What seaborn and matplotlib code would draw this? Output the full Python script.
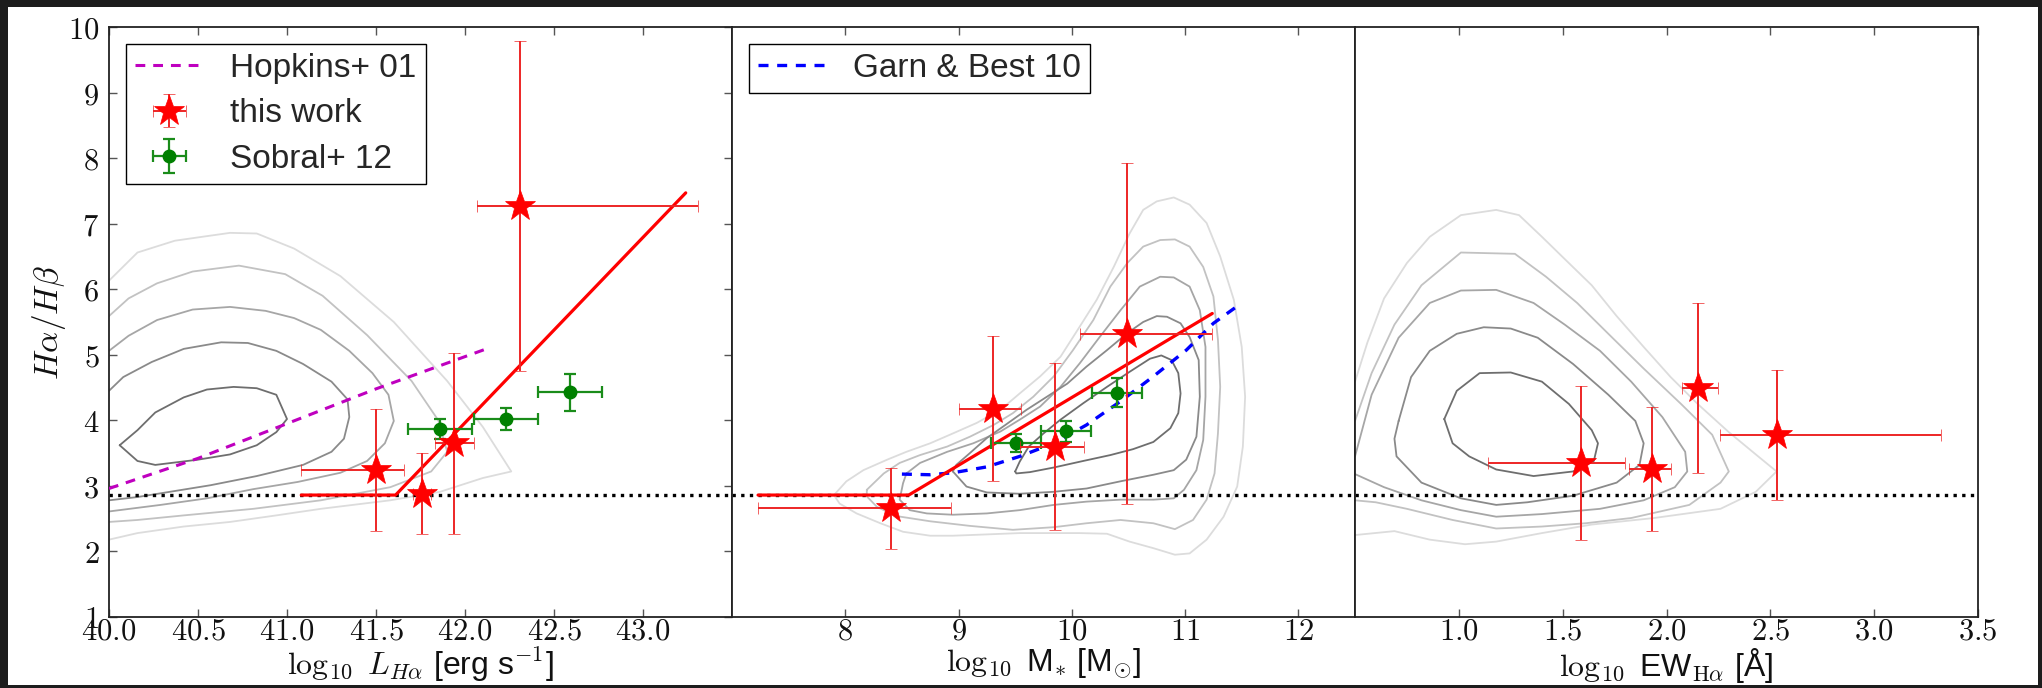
import matplotlib
matplotlib.use("Agg")
import matplotlib.pyplot as plt
import seaborn as sns
from matplotlib.patches import Rectangle

# ---------------- data ----------------
BALMER = 2.86

# panel 1 : log L(Halpha)
lha_star_x = [41.50, 41.76, 41.94, 42.31]
lha_star_y = [3.24, 2.88, 3.65, 7.27]
lha_star_xlo = [0.42, 0.05, 0.11, 0.24]
lha_star_xhi = [0.16, 0.05, 0.11, 1.00]
lha_star_yerr = [0.93, 0.62, 1.38, 2.51]

sobral_lha_x = [41.86, 42.23, 42.59]
sobral_lha_y = [3.87, 4.02, 4.43]
sobral_lha_xerr = [0.18, 0.18, 0.18]
sobral_lha_yerr = [0.15, 0.17, 0.28]

hopkins_x = [40.0, 40.5, 41.0, 41.5, 42.12]
hopkins_y = [2.96, 3.42, 3.95, 4.48, 5.09]

lha_fit_x = [41.08, 41.61, 43.24]
lha_fit_y = [2.86, 2.86, 7.47]

lha_c1_x = [40.0, 40.16, 40.37, 40.68, 40.83, 41.04, 41.30, 41.60, 41.90, 42.10, 42.26, 42.10, 41.86, 41.58, 41.19, 40.94, 40.68, 40.42, 40.16, 40.0]
lha_c1_y = [6.13, 6.56, 6.74, 6.86, 6.85, 6.62, 6.20, 5.50, 4.60, 3.90, 3.22, 3.12, 2.91, 2.78, 2.65, 2.55, 2.45, 2.38, 2.28, 2.18]
lha_c2_x = [40.0, 40.11, 40.27, 40.47, 40.73, 40.99, 41.20, 41.45, 41.70, 41.85, 41.90, 41.81, 41.58, 41.19, 40.81, 40.42, 40.16, 40.0]
lha_c2_y = [5.59, 5.86, 6.09, 6.27, 6.36, 6.23, 5.90, 5.30, 4.60, 4.00, 3.52, 3.22, 2.98, 2.78, 2.65, 2.55, 2.48, 2.45]
lha_c3_x = [40.0, 40.11, 40.27, 40.47, 40.68, 40.88, 41.04, 41.19, 41.35, 41.48, 41.57, 41.60, 41.55, 41.45, 41.30, 41.06, 40.81, 40.55, 40.29, 40.0]
lha_c3_y = [5.06, 5.29, 5.53, 5.69, 5.73, 5.67, 5.56, 5.38, 5.06, 4.72, 4.39, 3.99, 3.65, 3.38, 3.20, 3.06, 2.95, 2.81, 2.71, 2.61]
lha_c4_x = [40.0, 40.08, 40.24, 40.42, 40.63, 40.78, 40.94, 41.09, 41.25, 41.34, 41.35, 41.32, 41.25, 41.09, 40.83, 40.57, 40.32, 40.16, 40.0]
lha_c4_y = [4.45, 4.66, 4.89, 5.09, 5.19, 5.18, 5.06, 4.86, 4.59, 4.32, 4.05, 3.72, 3.52, 3.32, 3.15, 3.01, 2.90, 2.83, 2.78]
lha_c5_x = [40.06, 40.16, 40.26, 40.42, 40.55, 40.70, 40.83, 40.94, 41.00, 40.94, 40.83, 40.68, 40.50, 40.26, 40.16, 40.06]
lha_c5_y = [3.62, 3.85, 4.12, 4.35, 4.47, 4.51, 4.49, 4.39, 4.02, 3.82, 3.62, 3.48, 3.40, 3.32, 3.38, 3.62]

# panel 2 : log stellar mass
mass_star_x = [8.40, 9.30, 9.85, 10.49]
mass_star_y = [2.66, 4.18, 3.60, 5.32]
mass_star_xlo = [1.17, 0.30, 0.31, 0.42]
mass_star_xhi = [0.53, 0.25, 0.26, 0.75]
mass_star_yerr = [0.62, 1.10, 1.28, 2.60]

sobral_mass_x = [9.51, 9.95, 10.40]
sobral_mass_y = [3.65, 3.83, 4.42]
sobral_mass_xerr = [0.22, 0.22, 0.22]
sobral_mass_yerr = [0.14, 0.16, 0.22]

garn_x = [8.50, 8.75, 8.95, 9.25, 9.54, 9.84, 10.13, 10.43, 10.72, 11.01, 11.25, 11.50]
garn_y = [3.18, 3.17, 3.20, 3.29, 3.45, 3.65, 3.93, 4.29, 4.67, 5.07, 5.48, 5.79]

mass_fit_x = [7.23, 8.56, 11.24]
mass_fit_y = [2.86, 2.86, 5.63]

mass_c1_x = [7.90, 8.01, 8.16, 8.37, 8.54, 8.75, 8.95, 9.16, 9.37, 9.54, 9.72, 9.90, 10.07, 10.22, 10.37, 10.51, 10.63, 10.75, 10.90, 11.04, 11.19, 11.31, 11.43, 11.50, 11.53, 11.51, 11.46, 11.34, 11.19, 11.04, 10.91, 10.72, 10.51, 10.31, 10.07, 9.84, 9.54, 9.25, 8.95, 8.75, 8.51, 8.31, 8.10, 7.95, 7.90]
mass_c1_y = [2.86, 3.07, 3.24, 3.40, 3.52, 3.65, 3.80, 3.96, 4.16, 4.41, 4.67, 4.97, 5.43, 5.84, 6.34, 6.85, 7.21, 7.34, 7.40, 7.29, 7.01, 6.50, 5.84, 5.12, 4.36, 3.60, 2.99, 2.53, 2.18, 1.97, 1.95, 2.05, 2.15, 2.27, 2.28, 2.28, 2.28, 2.26, 2.24, 2.24, 2.30, 2.43, 2.58, 2.73, 2.86]
mass_c2_x = [8.19, 8.34, 8.48, 8.66, 8.90, 9.10, 9.31, 9.48, 9.66, 9.84, 10.01, 10.19, 10.34, 10.49, 10.63, 10.78, 10.91, 11.04, 11.16, 11.25, 11.29, 11.31, 11.29, 11.26, 11.19, 11.07, 10.91, 10.72, 10.43, 10.13, 9.84, 9.48, 9.10, 8.75, 8.45, 8.28, 8.19, 8.19]
mass_c2_y = [2.94, 3.19, 3.35, 3.47, 3.60, 3.75, 3.93, 4.11, 4.36, 4.67, 5.07, 5.53, 6.04, 6.40, 6.65, 6.75, 6.76, 6.65, 6.34, 5.89, 5.23, 4.51, 3.80, 3.19, 2.79, 2.48, 2.34, 2.43, 2.48, 2.43, 2.37, 2.33, 2.39, 2.46, 2.54, 2.68, 2.84, 2.94]
mass_c3_x = [8.54, 8.66, 8.90, 9.13, 9.37, 9.54, 9.72, 9.90, 10.07, 10.25, 10.43, 10.60, 10.78, 10.90, 11.04, 11.13, 11.18, 11.18, 11.16, 11.10, 10.99, 10.90, 10.72, 10.43, 10.13, 9.84, 9.54, 9.25, 8.95, 8.72, 8.57, 8.48, 8.51, 8.54]
mass_c3_y = [3.19, 3.35, 3.52, 3.65, 3.83, 4.01, 4.21, 4.51, 4.87, 5.28, 5.68, 6.04, 6.19, 6.18, 6.04, 5.68, 5.12, 4.36, 3.70, 3.24, 2.94, 2.81, 2.79, 2.79, 2.76, 2.71, 2.63, 2.58, 2.56, 2.58, 2.63, 2.79, 3.04, 3.19]
mass_c4_x = [8.95, 9.07, 9.25, 9.54, 9.84, 10.13, 10.43, 10.72, 10.90, 11.01, 11.10, 11.13, 11.12, 11.04, 10.96, 10.84, 10.75, 10.63, 10.49, 10.31, 10.13, 9.96, 9.78, 9.60, 9.43, 9.25, 9.10, 8.98, 8.95]
mass_c4_y = [3.22, 2.99, 2.90, 2.88, 2.91, 2.96, 3.07, 3.17, 3.24, 3.40, 3.75, 4.36, 4.92, 5.27, 5.48, 5.58, 5.59, 5.50, 5.33, 5.07, 4.82, 4.56, 4.36, 4.16, 3.95, 3.73, 3.50, 3.32, 3.22]
mass_c5_x = [9.50, 9.54, 9.62, 9.75, 9.90, 10.10, 10.31, 10.51, 10.69, 10.79, 10.88, 10.94, 10.96, 10.94, 10.87, 10.72, 10.54, 10.34, 10.10, 9.84, 9.63, 9.51, 9.50]
mass_c5_y = [3.22, 3.37, 3.60, 3.80, 4.01, 4.26, 4.51, 4.74, 4.94, 4.99, 4.92, 4.72, 4.41, 4.11, 3.88, 3.67, 3.56, 3.47, 3.38, 3.28, 3.21, 3.19, 3.22]

# panel 3 : log EW(Halpha)
ew_star_x = [1.59, 1.93, 2.15, 2.53]
ew_star_y = [3.35, 3.26, 4.49, 3.78]
ew_star_xlo = [0.45, 0.11, 0.075, 0.27]
ew_star_xhi = [0.21, 0.09, 0.10, 0.79]
ew_star_yerr = [1.18, 0.95, 1.30, 0.99]

ew_c1_x = [0.50, 0.56, 0.64, 0.75, 0.86, 1.01, 1.18, 1.29, 1.40, 1.51, 1.64, 1.76, 1.89, 2.02, 2.15, 2.30, 2.43, 2.53, 2.43, 2.26, 1.94, 1.64, 1.40, 1.18, 1.03, 0.86, 0.69, 0.50]
ew_c1_y = [4.59, 5.19, 5.86, 6.40, 6.80, 7.13, 7.21, 7.13, 6.80, 6.46, 6.06, 5.59, 5.12, 4.66, 4.25, 3.82, 3.48, 3.22, 2.91, 2.65, 2.51, 2.41, 2.28, 2.15, 2.11, 2.18, 2.31, 2.25]
ew_c2_x = [0.50, 0.58, 0.69, 0.82, 1.01, 1.27, 1.42, 1.57, 1.72, 1.89, 2.07, 2.22, 2.30, 2.26, 2.11, 1.83, 1.61, 1.40, 1.18, 0.97, 0.75, 0.60, 0.50]
ew_c2_y = [3.99, 4.72, 5.46, 6.06, 6.56, 6.54, 6.19, 5.79, 5.32, 4.79, 4.25, 3.78, 3.22, 3.05, 2.71, 2.51, 2.43, 2.38, 2.35, 2.48, 2.65, 2.75, 2.78]
ew_c3_x = [0.50, 0.58, 0.71, 0.86, 1.01, 1.18, 1.36, 1.51, 1.68, 1.83, 1.98, 2.09, 2.10, 2.04, 1.89, 1.68, 1.40, 1.18, 1.01, 0.82, 0.64, 0.50]
ew_c3_y = [3.45, 4.39, 5.26, 5.79, 5.98, 5.99, 5.79, 5.46, 5.06, 4.59, 4.05, 3.52, 3.22, 2.98, 2.78, 2.65, 2.57, 2.53, 2.63, 2.78, 2.98, 3.18]
ew_c4_x = [0.71, 0.77, 0.86, 0.99, 1.12, 1.25, 1.38, 1.55, 1.72, 1.85, 1.89, 1.87, 1.76, 1.55, 1.33, 1.18, 1.01, 0.82, 0.70, 0.69, 0.71]
ew_c4_y = [3.99, 4.66, 5.06, 5.32, 5.42, 5.40, 5.26, 4.86, 4.39, 3.99, 3.65, 3.32, 3.05, 2.85, 2.75, 2.71, 2.81, 3.05, 3.45, 3.72, 3.99]
ew_c5_x = [0.93, 0.99, 1.10, 1.25, 1.40, 1.53, 1.64, 1.67, 1.65, 1.55, 1.36, 1.18, 1.05, 0.97, 0.93]
ew_c5_y = [4.02, 4.45, 4.72, 4.73, 4.59, 4.25, 3.85, 3.65, 3.38, 3.22, 3.15, 3.25, 3.45, 3.65, 4.02]

x_ticks_lha = [40.0, 40.5, 41.0, 41.5, 42.0, 42.5, 43.0]
x_ticks_mass = [8, 9, 10, 11, 12]
x_ticks_ew = [1.0, 1.5, 2.0, 2.5, 3.0, 3.5]
y_ticks = [1, 2, 3, 4, 5, 6, 7, 8, 9, 10]

# ---------------- style ----------------
sns.set_theme(style="white")
plt.rcParams["font.family"] = ["Liberation Sans", "DejaVu Sans"]
plt.rcParams["mathtext.fontset"] = "cm"
plt.rcParams["axes.edgecolor"] = "#222222"
plt.rcParams["axes.linewidth"] = 1.2

GREYS = ["#dcdcdc", "#c2c2c2", "#a6a6a6", "#8a8a8a", "#6e6e6e"]
FS = 22
MAGENTA = (0.75, 0.0, 0.75)

W, H = 2042, 688
fig = plt.figure(figsize=(W / 100, H / 100), dpi=100, facecolor="#1d1d1d")
fig.patches.append(Rectangle((8 / W, 3 / H), 2030 / W, 678 / H, transform=fig.transFigure,
                             facecolor="white", edgecolor="none", zorder=-10))

ax_b = (H - 617) / H
ax_h = 590 / H
axes = [fig.add_axes([x0 / W, ax_b, 623 / W, ax_h]) for x0 in (109, 732, 1355)]


def curve(ax, xs, ys, **kw):
    sns.lineplot(x=xs, y=ys, ax=ax, sort=False, estimator=None, **kw)
    return ax.lines[-1]


def contours(ax, sets):
    for (cx, cy), col in zip(sets, GREYS):
        curve(ax, cx, cy, color=col, lw=1.3, zorder=1)


def stars(ax, x, y, xlo, xhi, yerr):
    return ax.errorbar(x, y, xerr=[xlo, xhi], yerr=yerr, fmt="*", color="red", ms=23,
                       mec="red", mew=0.5, ecolor=(0.93, 0.15, 0.15), elinewidth=1.4,
                       capsize=4, capthick=1.4, zorder=6, label="this work")


def greens(ax, x, y, xerr, yerr):
    return ax.errorbar(x, y, xerr=xerr, yerr=yerr, fmt="o", color="green", ms=9,
                       mec="green", ecolor=(0.1, 0.55, 0.1), elinewidth=1.6,
                       capsize=4, capthick=1.6, zorder=5, label="Sobral+ 12")


leg_kw = dict(loc="upper left", fontsize=24, frameon=True, fancybox=False, framealpha=1,
              edgecolor="black", handlelength=2.05, handletextpad=0.8, borderpad=0.28,
              labelspacing=0.43, borderaxespad=0.5, numpoints=1)

# panel 1
ax = axes[0]
contours(ax, [(lha_c1_x, lha_c1_y), (lha_c2_x, lha_c2_y), (lha_c3_x, lha_c3_y),
              (lha_c4_x, lha_c4_y), (lha_c5_x, lha_c5_y)])
h_hop = curve(ax, hopkins_x, hopkins_y, color=MAGENTA, lw=2.2, zorder=3)
h_hop.set_dashes((3.2, 2.6))
curve(ax, lha_fit_x, lha_fit_y, color="red", lw=2.3, zorder=4)
h_st = stars(ax, lha_star_x, lha_star_y, lha_star_xlo, lha_star_xhi, lha_star_yerr)
h_so = greens(ax, sobral_lha_x, sobral_lha_y, sobral_lha_xerr, sobral_lha_yerr)
ax.legend([h_hop, h_st, h_so], ["Hopkins+ 01", "this work", "Sobral+ 12"], **leg_kw)
ax.set_xlim(40.0, 43.5)
ax.set_xticks(x_ticks_lha)
ax.set_xticklabels([f"${t:.1f}$" for t in x_ticks_lha])
ax.set_xlabel(r"$\log_{10}\ L_{H\alpha}$ [erg s$^{-1}$]", fontsize=FS + 1, labelpad=-1)
ax.set_yticks(y_ticks)
ax.set_yticklabels([f"${t}$" for t in y_ticks])
ax.set_ylabel(r"$H\alpha/H\beta$", fontsize=FS + 2, labelpad=0)

# panel 2
ax = axes[1]
contours(ax, [(mass_c1_x, mass_c1_y), (mass_c2_x, mass_c2_y), (mass_c3_x, mass_c3_y),
              (mass_c4_x, mass_c4_y), (mass_c5_x, mass_c5_y)])
h_garn = curve(ax, garn_x, garn_y, color="blue", lw=2.4, zorder=3)
h_garn.set_dashes((3.0, 2.6))
curve(ax, mass_fit_x, mass_fit_y, color="red", lw=2.3, zorder=4)
stars(ax, mass_star_x, mass_star_y, mass_star_xlo, mass_star_xhi, mass_star_yerr)
greens(ax, sobral_mass_x, sobral_mass_y, sobral_mass_xerr, sobral_mass_yerr)
ax.legend([h_garn], ["Garn & Best 10"], **leg_kw)
ax.set_xlim(7.0, 12.5)
ax.set_xticks(x_ticks_mass)
ax.set_xticklabels([f"${t}$" for t in x_ticks_mass])
ax.set_xlabel(r"$\log_{10}$ M$_{*}$ [M$_{\odot}$]", fontsize=FS + 1, labelpad=-1)

# panel 3
ax = axes[2]
contours(ax, [(ew_c1_x, ew_c1_y), (ew_c2_x, ew_c2_y), (ew_c3_x, ew_c3_y),
              (ew_c4_x, ew_c4_y), (ew_c5_x, ew_c5_y)])
stars(ax, ew_star_x, ew_star_y, ew_star_xlo, ew_star_xhi, ew_star_yerr)
ax.set_xlim(0.5, 3.5)
ax.set_xticks(x_ticks_ew)
ax.set_xticklabels([f"${t:.1f}$" for t in x_ticks_ew])
ax.set_xlabel(r"$\log_{10}$ EW$_{\mathrm{H}\alpha}$ [Å]", fontsize=FS + 1, labelpad=-1)

for i, ax in enumerate(axes):
    ax.axhline(BALMER, color="black", ls=(0, (1, 1.6)), lw=2.4, zorder=2)
    ax.set_ylim(1, 10)
    ax.set_facecolor("white")
    ax.tick_params(axis="x", direction="in", length=6, width=1, color="#555555",
                   top=True, bottom=True, labelsize=FS, pad=0, labelcolor="#111111")
    if i == 0:
        ax.tick_params(axis="y", direction="in", length=6, width=1, color="#555555",
                       left=True, right=True, labelsize=FS, pad=7, labelcolor="#111111")
    else:
        ax.set_yticks(y_ticks)
        ax.tick_params(axis="y", left=False, right=False, labelleft=False)
    for sp in ax.spines.values():
        sp.set_color("#222222")
        sp.set_linewidth(1.3)
    ax.xaxis.label.set_color("#111111")
    ax.yaxis.label.set_color("#111111")

fig.savefig("out.png", dpi=100, facecolor=fig.get_facecolor())
